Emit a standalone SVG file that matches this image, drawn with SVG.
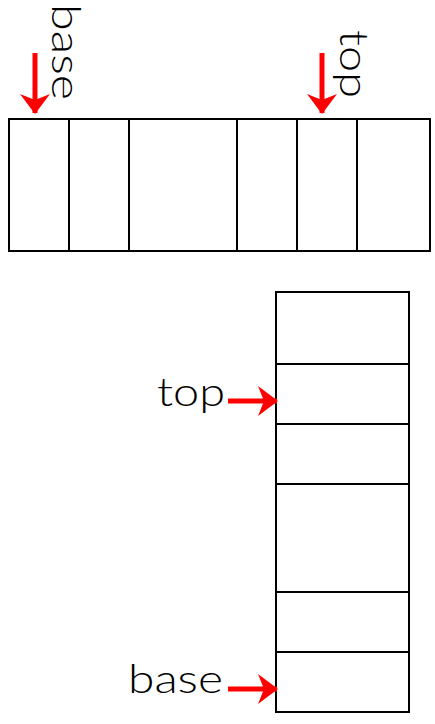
<svg xmlns="http://www.w3.org/2000/svg" width="435" height="724" viewBox="0 0 435 724">
<style>
.cell{fill:#fff;stroke:#000;stroke-width:2}
.lbl{font-family:Lato,"Open Sans","Noto Sans",sans-serif;font-weight:300;font-size:40px;fill:#000}
.arr{stroke:#ff0000;stroke-width:5;fill:none;marker-end:url(#ah)}
</style>
<defs>
<marker id="ah" markerUnits="userSpaceOnUse" markerWidth="20" markerHeight="32" refX="19" refY="16" orient="auto">
<path d="M0,1 L20,16 L0,31 L6,16 Z" fill="#ff0000"/>
</marker>
</defs>
<g id="array-row">
<rect class="cell" x="9" y="119" width="60" height="132"/>
<rect class="cell" x="69" y="119" width="60" height="132"/>
<rect class="cell" x="129" y="119" width="108" height="132"/>
<rect class="cell" x="237" y="119" width="60" height="132"/>
<rect class="cell" x="297" y="119" width="60" height="132"/>
<rect class="cell" x="357" y="119" width="73" height="132"/>
</g>
<g id="array-column">
<rect class="cell" x="276" y="292" width="133" height="72"/>
<rect class="cell" x="276" y="364" width="133" height="60"/>
<rect class="cell" x="276" y="424" width="133" height="60"/>
<rect class="cell" x="276" y="484" width="133" height="108"/>
<rect class="cell" x="276" y="592" width="133" height="60"/>
<rect class="cell" x="276" y="652" width="133" height="60"/>
</g>
<g id="labels">
<text class="lbl" transform="translate(52,4) rotate(90)" textLength="96" lengthAdjust="spacingAndGlyphs">base</text>
<text class="lbl" transform="translate(340,30) rotate(90)" textLength="68" lengthAdjust="spacingAndGlyphs">top</text>
<text class="lbl" x="157" y="406" textLength="68" lengthAdjust="spacingAndGlyphs">top</text>
<text class="lbl" x="128" y="693" textLength="95" lengthAdjust="spacingAndGlyphs">base</text>
</g>
<g id="connectors">
<line class="arr" x1="35" y1="53" x2="35" y2="113"/>
<line class="arr" x1="322" y1="53" x2="322" y2="113"/>
<line class="arr" x1="228" y1="401" x2="277" y2="401"/>
<line class="arr" x1="228" y1="689" x2="277" y2="689"/>
</g>
</svg>
